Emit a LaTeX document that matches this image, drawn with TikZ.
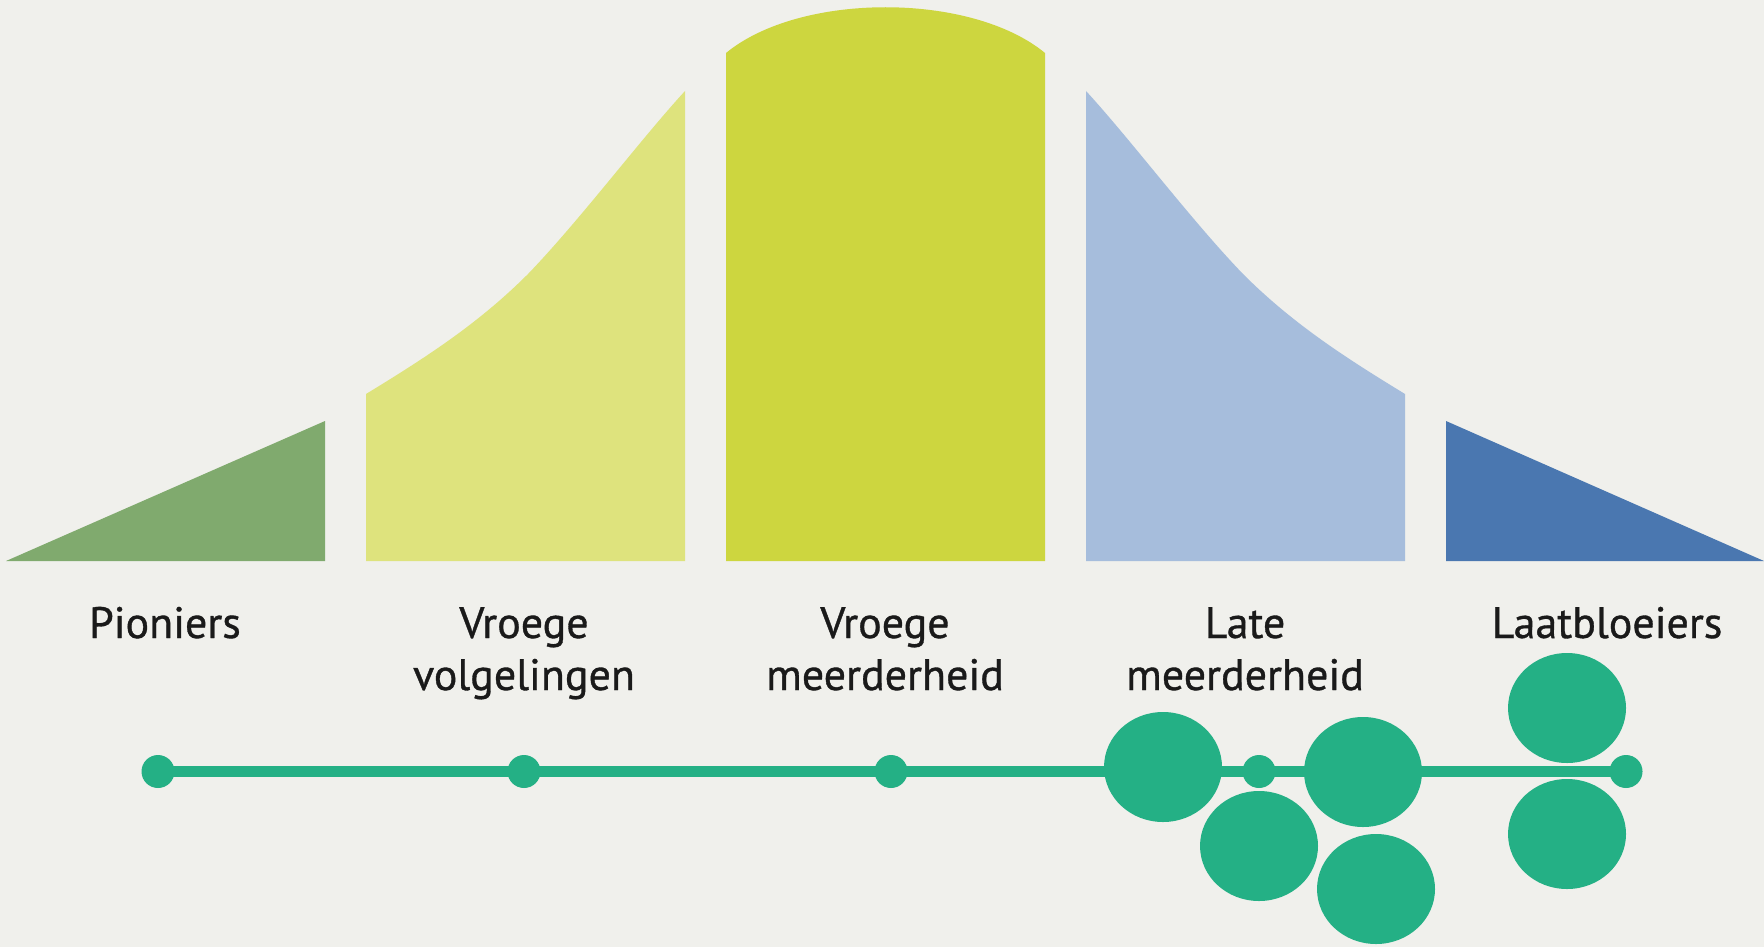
\documentclass[tikz,border=0pt]{standalone}
\usepackage{fontspec}
\setmainfont{PT Sans}
\newfontfamily\lblfont{PT Sans}[FakeBold=0.8]
\usetikzlibrary{shapes.geometric,backgrounds}
\definecolor{bg}{HTML}{F0F0EC}
\definecolor{cpion}{HTML}{80AA6E}
\definecolor{cvv}{HTML}{DEE37D}
\definecolor{cvm}{HTML}{CDD63F}
\definecolor{clm}{HTML}{A6BDDC}
\definecolor{claat}{HTML}{4A77B0}
\definecolor{dotgreen}{HTML}{24B085}
\definecolor{txt}{HTML}{1A1A1A}
\begin{document}
\begin{tikzpicture}[x=0.5pt,y=-0.5pt,
  dot/.style={circle,fill=dotgreen,inner sep=0pt,minimum size=16.5pt},
  blob/.style={ellipse,fill=dotgreen,inner sep=0pt,minimum width=59pt,minimum height=55pt},
  lbl/.style={font=\lblfont\fontsize{22}{26}\selectfont,text=txt,align=center,anchor=base,inner sep=0pt},
  link/.style={draw=dotgreen,line width=5.5pt}]
\begin{scope}[on background layer]
\fill[bg] (0,0) rectangle (1764,947);
\end{scope}
\useasboundingbox (0,0) rectangle (1764,947);
% curve segments
\fill[cpion] (6,561) -- (325,421) -- (325,561) -- cycle;
\fill[cvv] (366,561) -- (366,394) .. controls (425,358) and (478,324) .. (528,274) .. controls (580,220) and (640,140) .. (685,91) -- (685,561) -- cycle;
\fill[cvm] (726,561) -- (726,53) .. controls (800,-8) and (971,-8) .. (1045,53) -- (1045,561) -- cycle;
\fill[clm] (1405,561) -- (1405,394) .. controls (1346,358) and (1293,324) .. (1243,274) .. controls (1191,220) and (1131,140) .. (1086,91) -- (1086,561) -- cycle;
\fill[claat] (1764,561) -- (1446,421) -- (1446,561) -- cycle;
% labels
\node[lbl] (l1) at (165,638) {Pioniers};
\node[lbl] (l2) at (524,690) {Vroege\\volgelingen};
\node[lbl] (l3) at (885,690) {Vroege\\meerderheid};
\node[lbl] (l4) at (1245,690) {Late\\meerderheid};
\node[lbl] (l5) at (1607,638) {Laatbloeiers};
% timeline
\node[dot] (d1) at (158,771.5) {};
\node[dot] (d2) at (524,771.5) {};
\node[dot] (d3) at (891,771.5) {};
\node[dot] (d4) at (1259,771.5) {};
\node[dot] (d5) at (1626,771.5) {};
\begin{scope}[on background layer]
\draw[link] (d1.center) -- (d2.center) -- (d3.center) -- (d4.center) -- (d5.center);
\end{scope}
\node[blob] (b1) at (1163,767) {};
\node[blob] (b2) at (1363,772) {};
\node[blob] (b3) at (1259,846) {};
\node[blob] (b4) at (1376,889) {};
\node[blob] (b5) at (1567,708) {};
\node[blob] (b6) at (1567,834) {};
\end{tikzpicture}
\end{document}
